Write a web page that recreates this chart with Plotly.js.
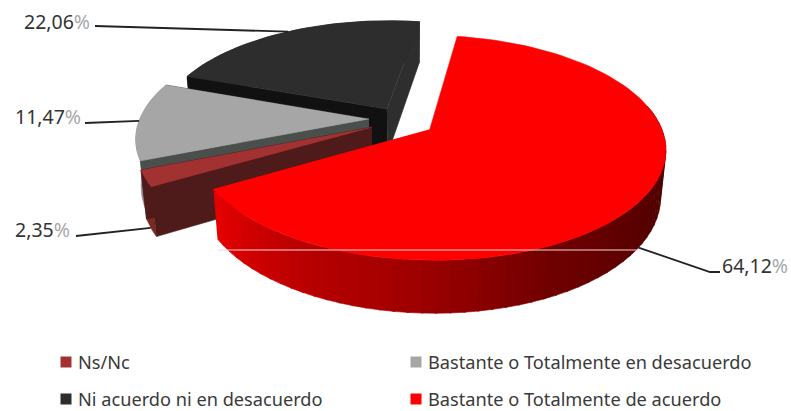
<!DOCTYPE html>
<html>
<head>
<meta charset="utf-8">
<script src="https://cdn.plot.ly/plotly-3.0.1.min.js"></script>
<style>html,body{margin:0;padding:0;background:#fff}#chart{width:791px;height:411px}</style>
</head>
<body>
<div id="chart"></div>
<script>
// Survey answers, listed clockwise starting from the largest slice
const categories = ['Bastante o Totalmente de acuerdo', 'Ns/Nc', 'Bastante o Totalmente en desacuerdo', 'Ni acuerdo ni en desacuerdo'];
const shares = [64.12, 2.35, 11.47, 22.06];
const shareLabels = ['64,12', '2,35', '11,47', '22,06'];
const topColors = ['#ff0000', '#a23232', '#a6a6a6', '#2d2d2d'];
const rimColors = ['#8a0000', '#7a2a22', '#8c8c8c', '#1c1c1c'];
const frontCutColors = ['#8a0000', '#4f1a1a', '#4a4f4c', '#111111'];
const backCutColors = ['#8a0000', '#4f1a1a', '#4a4f4c', '#2e2e2e'];
const legendOrder = [1, 2, 3, 0];

// Camera and pie geometry in pixels
const view = {ox: 404, oy: 120.6, rx: 229, ry: 106.5, tilt: 0.164, sink: 0.02, depth: 47.5, explode: 0.14, startDeg: 81};
// Extra pixel shift applied to individual slices
const sliceShift = [[-1, 0], [-3, 0], [-3, -2], [-1, 1]];
// Shading of the large slice's outer wall, by angle
const wallStops = [[-150, [232, 0, 0]], [-120, [186, 0, 0]], [-95, [160, 0, 0]], [-65, [112, 0, 0]], [-35, [88, 0, 0]], [-10, [78, 0, 0]], [82, [78, 0, 0]]];

const rad = d => d * Math.PI / 180;
function project(X, Y, Z, shift) {
  const w = 1 + view.tilt * Y + view.sink * Z;
  return [view.ox + view.rx * X / w + shift[0], view.oy - view.ry * Y / w + view.depth * Z / w + shift[1]];
}
function sliceAngles() {
  let a = view.startDeg;
  return shares.map((v, i) => { const from = a; a -= v * 3.6; return {from, to: a, mid: (from + a) / 2, shift: sliceShift[i]}; });
}
function rim(s, deg, Z) {
  const ex = view.explode * Math.cos(rad(s.mid)), ey = view.explode * Math.sin(rad(s.mid));
  return project(ex + Math.cos(rad(deg)), ey + Math.sin(rad(deg)), Z, s.shift);
}
function apex(s, Z) {
  return project(view.explode * Math.cos(rad(s.mid)), view.explode * Math.sin(rad(s.mid)), Z, s.shift);
}
function arc(s, a, b, Z) {
  const n = Math.max(2, Math.ceil(Math.abs(a - b) / 2)), pts = [];
  for (let i = 0; i <= n; i++) pts.push(rim(s, a + (b - a) * i / n, Z));
  return pts;
}
function face(pts, color) {
  return {type: 'scatter', mode: 'lines', x: pts.map(p => p[0]), y: pts.map(p => p[1]), fill: 'toself',
    fillcolor: color, line: {color: color, width: 0.6}, hoverinfo: 'skip', showlegend: false};
}
function wallColor(deg) {
  for (let i = 0; i < wallStops.length - 1; i++) {
    const [a, c1] = wallStops[i], [b, c2] = wallStops[i + 1];
    if (deg <= b) {
      const t = Math.max(0, (deg - a) / (b - a));
      return 'rgb(' + c1.map((c, k) => Math.round(c + (c2[k] - c) * t)).join(',') + ')';
    }
  }
  return 'rgb(78,0,0)';
}

const angles = sliceAngles();
const traces = [];
// Far slices are painted first so the nearer ones cover them
[3, 2, 1, 0].forEach(i => {
  const s = angles[i];
  if (i !== 0) {
    const a0 = apex(s, 0), a1 = apex(s, 1);
    traces.push(face(arc(s, s.from, s.to, 0).concat(arc(s, s.to, s.from, 1)), rimColors[i]));
    traces.push(face([a0, rim(s, s.to, 0), rim(s, s.to, 1), a1], backCutColors[i]));
    traces.push(face([a0, rim(s, s.from, 0), rim(s, s.from, 1), a1], frontCutColors[i]));
  } else {
    // Outer wall split into narrow strips to carry the shading
    const step = 3;
    for (let d = s.to; d < Math.min(s.from, 10); d += step) {
      const e = d + step + 0.4;
      traces.push(face(arc(s, d, e, 0).concat(arc(s, e, d, 1)), wallColor(d + step / 2)));
    }
  }
  traces.push(face([apex(s, 0)].concat(arc(s, s.from, s.to, 0)), topColors[i]));
});

// Leader lines run from each slice's rim out to its label
const leaderDepth = [1, 1, 0, 0];
const leaderBends = [[[710, 272], [720, 272]], [[76, 236]], [[85, 123]], [[95, 26]]];
const labelSpots = [[720, 265], [13, 229], [13, 116], [22, 21]];
angles.forEach((s, i) => {
  const pts = [rim(s, s.mid, leaderDepth[i])].concat(leaderBends[i]);
  traces.push({type: 'scatter', mode: 'lines', x: pts.map(p => p[0]), y: pts.map(p => p[1]),
    line: {color: '#222222', width: 1.8}, hoverinfo: 'skip', showlegend: false});
});

const pct = '<span style="color:#a8a8a8">%</span>';
const annotations = shareLabels.map((t, i) => ({
  x: labelSpots[i][0], y: labelSpots[i][1], xref: 'x', yref: 'y', xanchor: 'left', yanchor: 'middle',
  text: t + pct, showarrow: false, font: {family: 'Noto Sans', size: 19.5, color: '#333333'}
}));

// Legend swatches and captions laid out in two columns
const legendSpots = [[61, 362], [411, 362], [61, 399], [411, 399]];
const swatchColors = ['#a23232', '#a6a6a6', '#2d2d2d', '#ff0000'];
traces.push({type: 'scatter', mode: 'markers', x: legendSpots.map(p => p[0] + 5), y: legendSpots.map(p => p[1]),
  marker: {symbol: 'square', size: 11, color: swatchColors}, hoverinfo: 'skip', showlegend: false});
legendOrder.forEach((c, i) => annotations.push({
  x: legendSpots[i][0] + 15, y: legendSpots[i][1], xref: 'x', yref: 'y', xanchor: 'left', yanchor: 'middle',
  text: categories[c], showarrow: false, font: {family: 'Noto Sans', size: 18.2, color: '#3a3a3a'}
}));

const hiddenAxis = {visible: false, fixedrange: true};
Plotly.newPlot('chart', traces, {
  width: 791, height: 411, margin: {l: 0, r: 0, t: 0, b: 0},
  paper_bgcolor: '#ffffff', plot_bgcolor: '#ffffff', showlegend: false,
  xaxis: Object.assign({range: [0, 791]}, hiddenAxis),
  yaxis: Object.assign({range: [411, 0]}, hiddenAxis),
  annotations: annotations,
  shapes: [{type: 'line', xref: 'x', yref: 'y', x0: 218, x1: 640, y0: 250, y1: 250, line: {color: '#f3d8d8', width: 1}}]
}, {displayModeBar: false, staticPlot: true});
</script>
</body>
</html>
